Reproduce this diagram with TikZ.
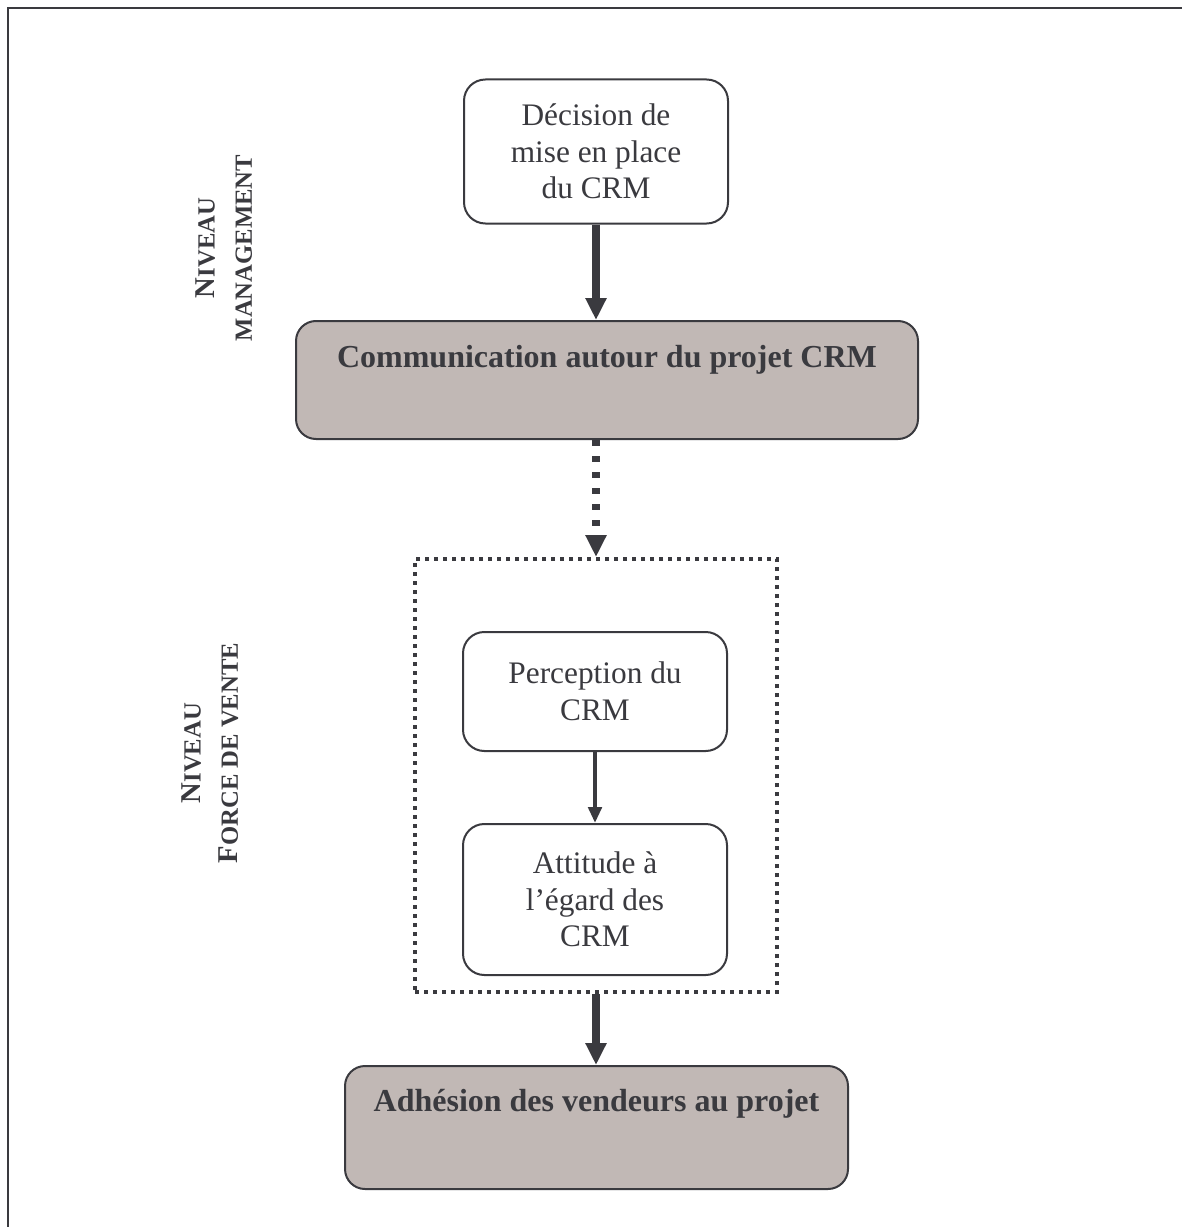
\documentclass[tikz,border=0pt]{standalone}
\usepackage{fontspec}
\setmainfont{Liberation Serif}
\usepackage{xcolor}
\usepackage{tikz}
\usetikzlibrary{arrows.meta,positioning}
\definecolor{InkGrey}{HTML}{3A3A3F}
\definecolor{BoxTaupe}{HTML}{C1B8B5}
% capital letter followed by small capitals
\newcommand{\lvlcaps}[2]{{\fontsize{21.5pt}{28pt}\selectfont #1}{\fontsize{18.5pt}{28pt}\selectfont #2}}

\begin{document}
\begin{tikzpicture}[
    x=0.75pt, y=-0.75pt,
    stepbox/.style={draw=InkGrey, fill=white, line width=1.5pt, rounded corners=16pt,
                    minimum width=198pt, inner sep=0pt, align=center, text=InkGrey,
                    font=\fontsize{23.5pt}{27.5pt}\selectfont},
    keybox/.style={draw=InkGrey, fill=BoxTaupe, line width=1.5pt, rounded corners=15pt,
                   inner sep=0pt, anchor=north, text=InkGrey,
                   font=\fontsize{24pt}{28pt}\selectfont\bfseries},
    zonebox/.style={draw=InkGrey, line width=3pt, dash pattern=on 3pt off 3.75pt},
    level/.style={rotate=90, align=center, text=InkGrey,
                  font=\fontsize{21.5pt}{28pt}\selectfont\bfseries},
    bigarrow/.style={-{Triangle[length=16.5pt, width=15pt]}, InkGrey, line width=6pt},
    smallarrow/.style={-{Triangle[length=12pt, width=10pt]}, InkGrey, line width=3pt},
    frame/.style={draw=InkGrey, line width=2pt},
  ]
    \useasboundingbox (0,0) rectangle (1182,1227);
    % page frame
    \draw[frame] (8,1227) -- (8,8) -- (1182,8);
    % level labels
    \node[level] (mgmt) at (224,248) {\lvlcaps{N}{IVEAU}\\\lvlcaps{}{MANAGEMENT}};
    \node[level] (sales) at (210,753) {\lvlcaps{N}{IVEAU}\\\lvlcaps{F}{ORCE DE VENTE}};
    % management level
    \node[stepbox, minimum height=108pt] (dec) at (596,151.5) {D\'ecision de\\mise en place\\du CRM};
    \node[keybox, minimum width=466.5pt, text height=34.5pt, text depth=54pt] (comm) at (607,320)
      {Communication autour du projet CRM};
    % sales force level
    \node[zonebox, minimum width=271.5pt, minimum height=324.75pt] (zone) at (596,775.5) {};
    \node[stepbox, minimum height=89.25pt] (perc) at (595,691.5) {Perception du\\CRM};
    \node[stepbox, minimum height=113.25pt] (att) at (595,899.5) {Attitude \`a\\l’\'egard des\\CRM};
    \node[keybox, minimum width=377.25pt, text height=34pt, text depth=58.25pt] (adh) at (596.5,1065)
      {Adh\'esion des vendeurs au projet};
    % arrows
    \draw[bigarrow] (dec.south) -- (dec.south |- comm.north);
    \draw[bigarrow, dash pattern=on 4.5pt off 7.5pt] (comm.south -| zone.north) -- (zone.north);
    \draw[smallarrow] (perc.south) -- (att.north);
    \draw[bigarrow] (zone.south) -- (zone.south |- adh.north);
  \end{tikzpicture}
\end{document}
